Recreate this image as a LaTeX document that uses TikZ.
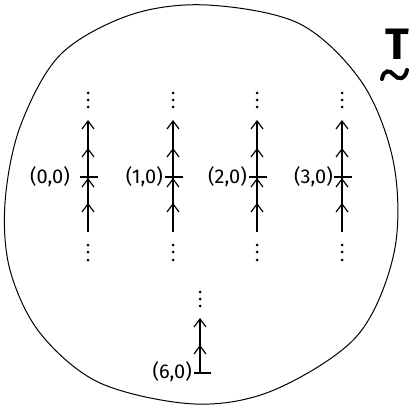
\documentclass[tikz,border=0pt]{standalone}
\usepackage{fontspec}
\setsansfont{Fira Sans}
\usetikzlibrary{arrows.meta,decorations.markings}
\tikzset{myhead/.tip={Straight Barb[length=8pt,width=12pt,line width=1.2pt]}}
\begin{document}
\begin{tikzpicture}[x=1pt,y=-1pt,
  lbl/.style={font=\sffamily\fontsize{20}{20}\selectfont, inner sep=0pt},
  barb/.style={-myhead},
  crossbar/.style={line width=1.6pt},
  dotc/.style={fill=black, circle, inner sep=0pt, minimum size=3pt},
  blob/.style={line width=1pt},
  squiggle/.style={line width=4pt, line cap=round}
]
\useasboundingbox (0,0) rectangle (414,406);
% outline
\draw[blob] plot[smooth cycle, tension=0.55] coordinates {
 (207,5) (300,24) (363,84) (394,165) (394,253) (357,336) (274,390) (195,404)
 (100,383) (40,333) (10,270) (5,203) (20,127) (60,55) (130,15)};
% columns
\foreach \n/\x/\g in {0/88/18,1/173/10,2/257/10,3/342/9}{
  \coordinate (b\n) at (\x,232);
  \coordinate (t\n) at (\x,120);
  \coordinate (cl\n) at (\x-8,177);
  \coordinate (cr\n) at (\x+10,177);
  \draw[line width=1.2pt,
    decoration={markings,
      mark=at position 0.259 with {\arrow{myhead}},
      mark=at position 0.482 with {\arrow{myhead}},
      mark=at position 0.75 with {\arrow{myhead}}},
    postaction={decorate}, barb] (b\n) -- (t\n);
  \draw[crossbar] (cl\n) -- (cr\n);
  \node[dotc] at (\x,93) {};
  \node[dotc] at (\x,100) {};
  \node[dotc] at (\x,107) {};
  \node[dotc] at (\x,245) {};
  \node[dotc] at (\x,252) {};
  \node[dotc] at (\x,260) {};
  \node[lbl, anchor=east] (l\n) at (\x-\g,177) {(\n,0)};
}
% bottom strand
\coordinate (b6) at (200,373);
\coordinate (t6) at (200,318);
\draw[line width=1.2pt,
  decoration={markings,
    mark=at position 0.51 with {\arrow{myhead}}},
  postaction={decorate}, barb] (b6) -- (t6);
\coordinate (cl6) at (194,373);
\coordinate (cr6) at (211,373);
\draw[crossbar] (cl6) -- (cr6);
\node[dotc] at (200,292) {};
\node[dotc] at (200,299) {};
\node[dotc] at (200,306) {};
\node[lbl, anchor=east] (l6) at (192,372) {(6,0)};
% T with tilde
\node[font=\sffamily\bfseries\fontsize{44}{44}\selectfont, inner sep=0pt, anchor=north] (T) at (397,29) {T};
\coordinate (s0) at (382,79);
\coordinate (s1) at (394,75);
\coordinate (s2) at (407,70);
\draw[squiggle] (s0) .. controls (384,69) and (390,70) .. (s1) .. controls (398,80) and (405,80) .. (s2);
\end{tikzpicture}
\end{document}
